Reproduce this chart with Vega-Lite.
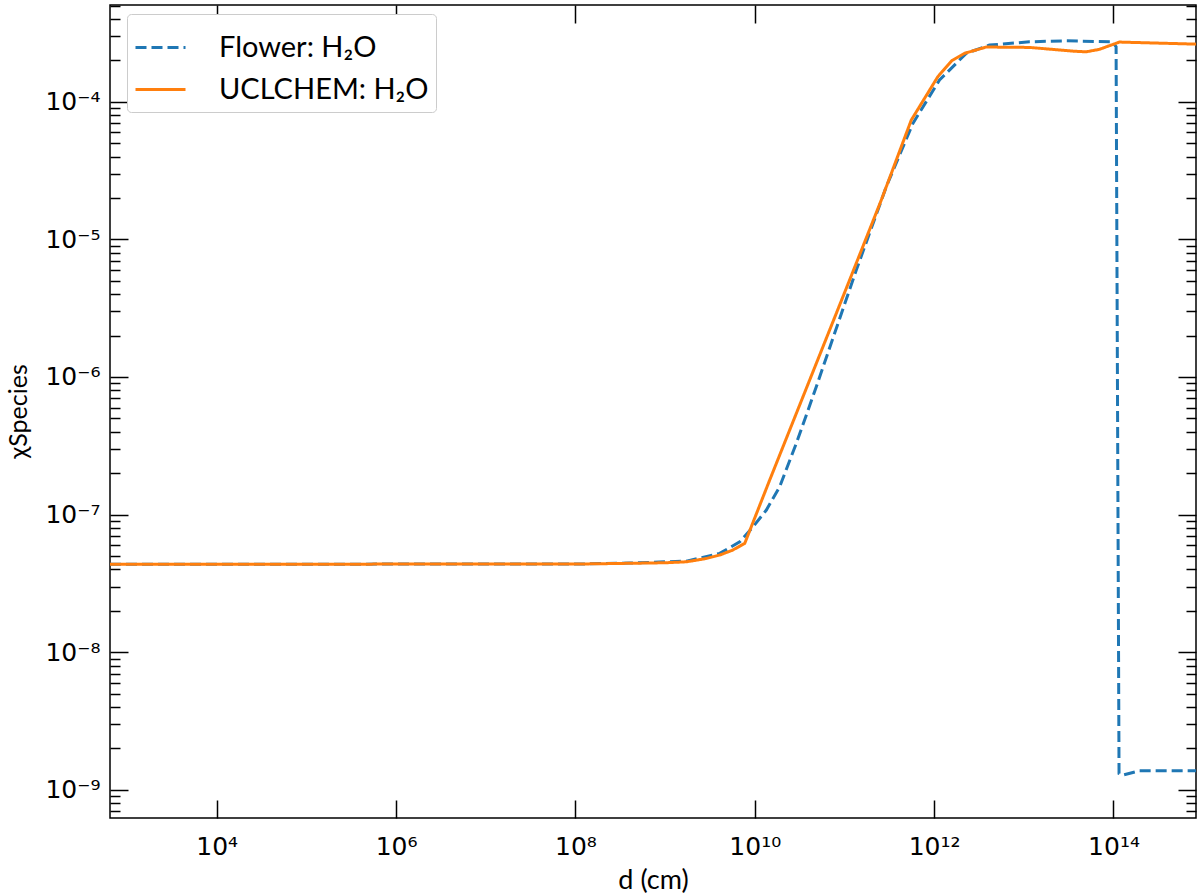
{
  "$schema": "https://vega.github.io/schema/vega-lite/v6.json",
  "width": 1086,
  "height": 813,
  "autosize": {"type": "none"},
  "padding": {"left": 110, "top": 5, "right": 4, "bottom": 77},
  "background": "white",
  "config": {
    "view": {"stroke": "black", "strokeWidth": 1.5},
    "font": "Lato",
    "axis": {"domain": false, "grid": false, "tickColor": "black", "tickWidth": 1.5, "labelColor": "black", "titleColor": "black", "labelFont": "DejaVu Sans", "titleFont": "Lato", "labelFlush": false, "labelOverlap": false, "titleFontWeight": "normal"}
  },
  "data": {
    "values": [
      {"series": "Flower: H₂O", "d": 645.7, "chi": 4.365e-8},
      {"series": "Flower: H₂O", "d": 1e5, "chi": 4.365e-8},
      {"series": "Flower: H₂O", "d": 1e8, "chi": 4.37e-8},
      {"series": "Flower: H₂O", "d": 3.981e8, "chi": 4.446e-8},
      {"series": "Flower: H₂O", "d": 1.730e9, "chi": 4.592e-8},
      {"series": "Flower: H₂O", "d": 4.064e9, "chi": 5.224e-8},
      {"series": "Flower: H₂O", "d": 6.792e9, "chi": 6.339e-8},
      {"series": "Flower: H₂O", "d": 9.550e9, "chi": 8.147e-8},
      {"series": "Flower: H₂O", "d": 1.346e10, "chi": 1.079e-7},
      {"series": "Flower: H₂O", "d": 1.892e10, "chi": 1.592e-7},
      {"series": "Flower: H₂O", "d": 2.904e10, "chi": 3.289e-7},
      {"series": "Flower: H₂O", "d": 4.853e10, "chi": 8.492e-7},
      {"series": "Flower: H₂O", "d": 1.355e11, "chi": 5.984e-6},
      {"series": "Flower: H₂O", "d": 2.924e11, "chi": 2.410e-5},
      {"series": "Flower: H₂O", "d": 5.794e11, "chi": 6.966e-5},
      {"series": "Flower: H₂O", "d": 1.148e12, "chi": 1.439e-4},
      {"series": "Flower: H₂O", "d": 2.280e12, "chi": 2.249e-4},
      {"series": "Flower: H₂O", "d": 4.140e12, "chi": 2.582e-4},
      {"series": "Flower: H₂O", "d": 1.156e13, "chi": 2.729e-4},
      {"series": "Flower: H₂O", "d": 2.965e13, "chi": 2.773e-4},
      {"series": "Flower: H₂O", "d": 9.727e13, "chi": 2.729e-4},
      {"series": "Flower: H₂O", "d": 1.069e14, "chi": 2.512e-4},
      {"series": "Flower: H₂O", "d": 1.153e14, "chi": 1.315e-9},
      {"series": "Flower: H₂O", "d": 1.268e14, "chi": 1.279e-9},
      {"series": "Flower: H₂O", "d": 1.945e14, "chi": 1.374e-9},
      {"series": "Flower: H₂O", "d": 8.318e14, "chi": 1.374e-9},
      {"series": "UCLCHEM: H₂O", "d": 645.7, "chi": 4.365e-8},
      {"series": "UCLCHEM: H₂O", "d": 1e5, "chi": 4.365e-8},
      {"series": "UCLCHEM: H₂O", "d": 1e8, "chi": 4.37e-8},
      {"series": "UCLCHEM: H₂O", "d": 3.126e8, "chi": 4.416e-8},
      {"series": "UCLCHEM: H₂O", "d": 1e9, "chi": 4.467e-8},
      {"series": "UCLCHEM: H₂O", "d": 1.730e9, "chi": 4.539e-8},
      {"series": "UCLCHEM: H₂O", "d": 2.818e9, "chi": 4.786e-8},
      {"series": "UCLCHEM: H₂O", "d": 4.064e9, "chi": 5.082e-8},
      {"series": "UCLCHEM: H₂O", "d": 5.675e9, "chi": 5.521e-8},
      {"series": "UCLCHEM: H₂O", "d": 7.727e9, "chi": 6.180e-8},
      {"series": "UCLCHEM: H₂O", "d": 1.466e10, "chi": 1.782e-7},
      {"series": "UCLCHEM: H₂O", "d": 4.093e10, "chi": 9.506e-7},
      {"series": "UCLCHEM: H₂O", "d": 1.140e11, "chi": 5.058e-6},
      {"series": "UCLCHEM: H₂O", "d": 2.576e11, "chi": 1.932e-5},
      {"series": "UCLCHEM: H₂O", "d": 5.559e11, "chi": 7.362e-5},
      {"series": "UCLCHEM: H₂O", "d": 1.099e12, "chi": 1.521e-4},
      {"series": "UCLCHEM: H₂O", "d": 1.585e12, "chi": 1.995e-4},
      {"series": "UCLCHEM: H₂O", "d": 2.183e12, "chi": 2.249e-4},
      {"series": "UCLCHEM: H₂O", "d": 3.811e12, "chi": 2.500e-4},
      {"series": "UCLCHEM: H₂O", "d": 1.156e13, "chi": 2.483e-4},
      {"series": "UCLCHEM: H₂O", "d": 2.084e13, "chi": 2.404e-4},
      {"series": "UCLCHEM: H₂O", "d": 3.548e13, "chi": 2.333e-4},
      {"series": "UCLCHEM: H₂O", "d": 4.955e13, "chi": 2.307e-4},
      {"series": "UCLCHEM: H₂O", "d": 6.966e13, "chi": 2.404e-4},
      {"series": "UCLCHEM: H₂O", "d": 1.164e14, "chi": 2.716e-4},
      {"series": "UCLCHEM: H₂O", "d": 8.318e14, "chi": 2.624e-4}
    ]
  },
  "layer": [
    {
      "mark": {"type": "line", "strokeWidth": 3, "clip": true},
      "encoding": {
        "x": {
          "field": "d", "type": "quantitative",
          "scale": {"type": "log", "domain": [645.7, 8.318e14], "nice": false},
          "axis": {
            "orient": "bottom", "values": [1e4, 1e6, 1e8, 1e10, 1e12, 1e14],
            "tickSize": -18, "labelPadding": 54, "labelBaseline": "alphabetic", "labelFontSize": 25,
            "labelExpr": "datum.value < 1e5 ? '10⁴' : datum.value < 1e7 ? '10⁶' : datum.value < 1e9 ? '10⁸' : datum.value < 1e11 ? '10¹⁰' : datum.value < 1e13 ? '10¹²' : '10¹⁴'",
            "title": "d (cm)", "titleFontSize": 27, "titleBaseline": "alphabetic", "titleY": 70
          }
        },
        "y": {
          "field": "chi", "type": "quantitative",
          "scale": {"type": "log", "domain": [6.24e-10, 5.05e-4], "nice": false},
          "axis": {
            "orient": "left", "values": [1e-9, 1e-8, 1e-7, 1e-6, 1e-5, 1e-4],
            "tickSize": -18, "labelPadding": 28, "labelFontSize": 25, "labelBaseline": "middle",
            "labelExpr": "datum.value > 5e-5 ? '10⁻⁴' : datum.value > 5e-6 ? '10⁻⁵' : datum.value > 5e-7 ? '10⁻⁶' : datum.value > 5e-8 ? '10⁻⁷' : datum.value > 5e-9 ? '10⁻⁸' : '10⁻⁹'",
            "title": "χSpecies", "titleFontSize": 25, "titleAngle": -90, "titleBaseline": "middle", "titleX": -92, "titleY": 406
          }
        },
        "color": {
          "field": "series", "type": "nominal",
          "scale": {"domain": ["Flower: H₂O", "UCLCHEM: H₂O"], "range": ["#1f77b4", "#ff7f0e"]},
          "legend": {
            "title": null, "orient": "none", "legendX": 17, "legendY": 9,
            "padding": 7, "fillColor": "white", "strokeColor": "#cccccc", "cornerRadius": 4,
            "labelFontSize": 29, "labelFont": "Lato", "labelColor": "black", "labelLimit": 400,
            "symbolType": "stroke", "symbolSize": 2500, "symbolStrokeWidth": 3,
            "labelOffset": 32, "rowPadding": 0
          }
        },
        "strokeDash": {
          "field": "series", "type": "nominal",
          "scale": {"domain": ["Flower: H₂O", "UCLCHEM: H₂O"], "range": [[11, 5], [1, 0]]},
          "legend": null
        }
      }
    },
    {
      "mark": {"type": "line", "opacity": 0},
      "encoding": {
        "x": {"field": "d", "type": "quantitative", "axis": {"orient": "top", "values": [1e4, 1e6, 1e8, 1e10, 1e12, 1e14], "tickSize": -18, "labels": false, "title": null}},
        "y": {"field": "chi", "type": "quantitative", "axis": {"orient": "right", "values": [1e-9, 1e-8, 1e-7, 1e-6, 1e-5, 1e-4], "tickSize": -18, "labels": false, "title": null}},
        "detail": {"field": "series"}
      }
    },
    {
      "mark": {"type": "line", "opacity": 0},
      "encoding": {
        "x": {"field": "d", "type": "quantitative", "axis": null},
        "y": {"field": "chi", "type": "quantitative", "axis": {"orient": "left", "values": [7e-10, 8e-10, 9e-10, 2e-9, 3e-9, 4e-9, 5e-9, 6e-9, 7e-9, 8e-9, 9e-9, 2e-8, 3e-8, 4e-8, 5e-8, 6e-8, 7e-8, 8e-8, 9e-8, 2e-7, 3e-7, 4e-7, 5e-7, 6e-7, 7e-7, 8e-7, 9e-7, 2e-6, 3e-6, 4e-6, 5e-6, 6e-6, 7e-6, 8e-6, 9e-6, 2e-5, 3e-5, 4e-5, 5e-5, 6e-5, 7e-5, 8e-5, 9e-5, 2e-4, 3e-4, 4e-4, 5e-4], "tickSize": -10, "labels": false, "title": null}},
        "detail": {"field": "series"}
      }
    },
    {
      "mark": {"type": "line", "opacity": 0},
      "encoding": {
        "x": {"field": "d", "type": "quantitative", "axis": null},
        "y": {"field": "chi", "type": "quantitative", "axis": {"orient": "right", "values": [7e-10, 8e-10, 9e-10, 2e-9, 3e-9, 4e-9, 5e-9, 6e-9, 7e-9, 8e-9, 9e-9, 2e-8, 3e-8, 4e-8, 5e-8, 6e-8, 7e-8, 8e-8, 9e-8, 2e-7, 3e-7, 4e-7, 5e-7, 6e-7, 7e-7, 8e-7, 9e-7, 2e-6, 3e-6, 4e-6, 5e-6, 6e-6, 7e-6, 8e-6, 9e-6, 2e-5, 3e-5, 4e-5, 5e-5, 6e-5, 7e-5, 8e-5, 9e-5, 2e-4, 3e-4, 4e-4, 5e-4], "tickSize": -10, "labels": false, "title": null}},
        "detail": {"field": "series"}
      }
    }
  ],
  "resolve": {"axis": {"x": "independent", "y": "independent"}}
}
